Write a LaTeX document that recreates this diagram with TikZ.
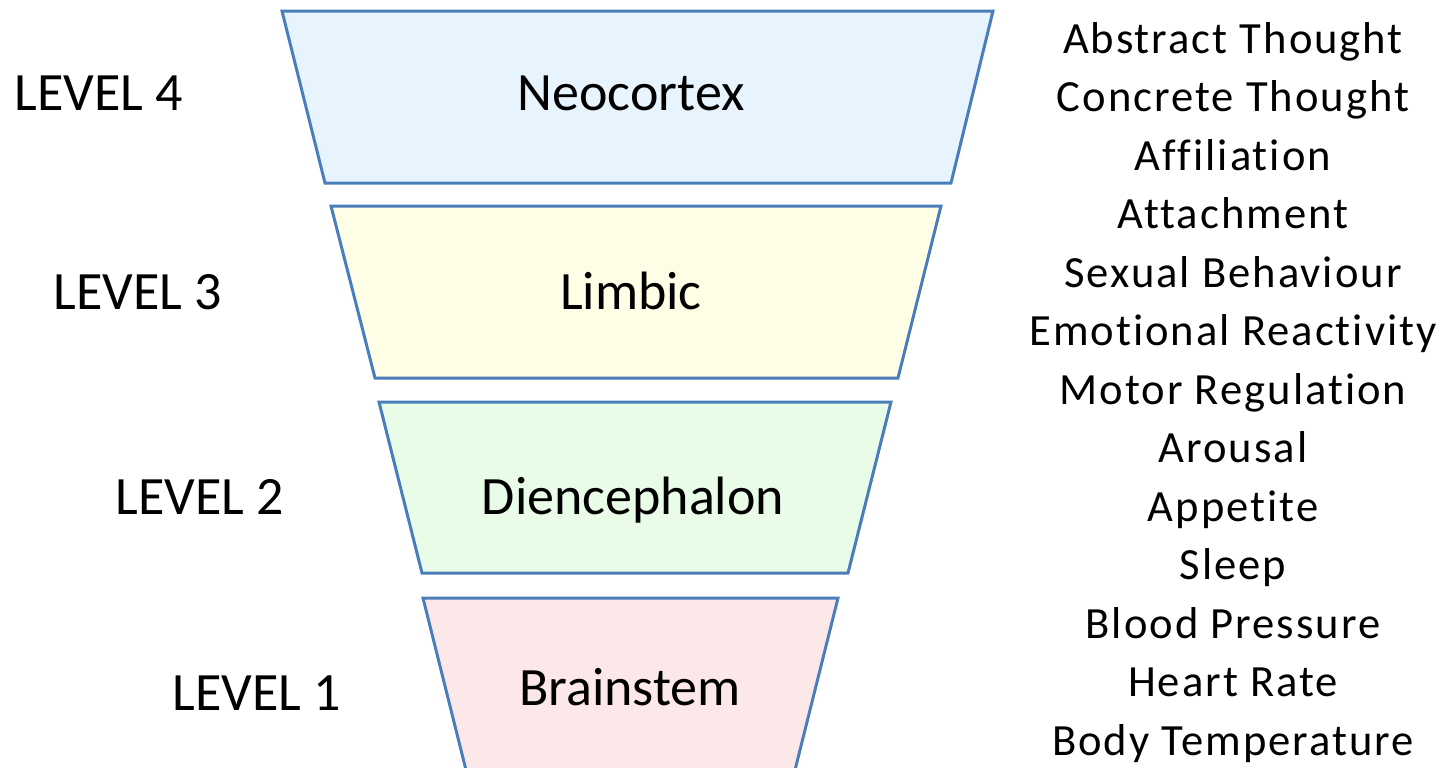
\documentclass[tikz,border=0pt]{standalone}
\usepackage{fontspec}
\setmainfont{Carlito}[Ligatures=NoCommon]
\newfontfamily\funcfont{Carlito}[LetterSpace=4.5,Ligatures=NoCommon]
\definecolor{edgecol}{RGB}{74,126,187}
\definecolor{neocol}{RGB}{232,244,253}
\definecolor{limcol}{RGB}{254,254,230}
\definecolor{diecol}{RGB}{232,252,232}
\definecolor{brncol}{RGB}{253,232,233}
\tikzset{
  layer/.style={draw=edgecol,line width=1.5pt,line join=miter},
  big/.style={anchor=base,inner sep=0pt,font=\fontsize{27}{32}\selectfont},
  func/.style={anchor=base,inner sep=0pt,font=\funcfont\fontsize{22.3}{29}\selectfont},
}
\begin{document}
\begin{tikzpicture}[x=0.5pt,y=-0.5pt]
\useasboundingbox (0,0) rectangle (1447,767);
\clip (0,0) rectangle (1447,767);
%%
  \draw [layer,fill=neocol] (282,11) -- (993,11) -- (951,183) -- (325,183) -- cycle;
  \draw [layer,fill=limcol] (331,206) -- (941,206) -- (898,378) -- (375,378) -- cycle;
  \draw [layer,fill=diecol] (379,402) -- (891,402) -- (848,573) -- (422,573) -- cycle;
  \draw [layer,fill=brncol] (423,598) -- (838,598) -- (790,790) -- (471,790) -- cycle;
  \node (Neo) at (631,110) [big] {Neocortex};
  \node (Lim) at (631,309) [big] {Limbic};
  \node (Die) at (633,514) [big] {Diencephalon};
  \node (Brn) at (630,705) [big] {Brainstem};
  \node (L4) at (99,110) [big] {LEVEL 4};
  \node (L3) at (138,309) [big] {LEVEL 3};
  \node (L2) at (200,514) [big] {LEVEL 2};
  \node (L1) at (257,710) [big] {LEVEL 1};
%
  \foreach \t [count=\i] in {Abstract Thought,Concrete Thought,Affiliation,Attachment,
      Sexual Behaviour,Emotional Reactivity,Motor Regulation,Arousal,Appetite,Sleep,
      Blood Pressure,Heart Rate,Body Temperature}
    \node (F\i) at (1233,{53+58.5*(\i-1)}) [func] {\t};
%
\end{tikzpicture}
\end{document}
